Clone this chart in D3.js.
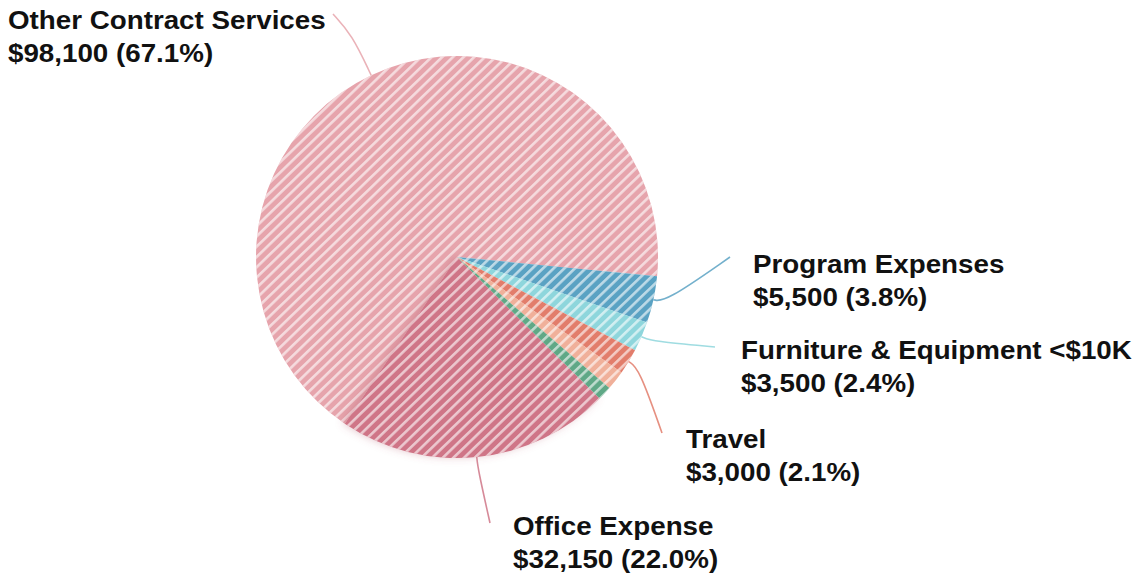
<!DOCTYPE html>
<html>
<head>
<meta charset="utf-8">
<script src="https://cdn.jsdelivr.net/npm/d3@7"></script>
<style>
  body { margin: 0; background: #fff; }
  svg { display: block; }
  .lbl { font-family: "Liberation Sans", Arial, sans-serif; font-weight: bold; font-size: 25px; fill: #111; }
</style>
</head>
<body>
<svg id="chart" width="1133" height="580"></svg>
<script>
// slices, clockwise starting from Program Expenses
var categories = ["Program Expenses", "Furniture & Equipment <$10K", "Travel", "(unlabeled 1)", "(unlabeled 2)", "Office Expense", "Other Contract Services"];
var amounts = [5500, 3500, 3000, 2300, 1650, 32150, 98100];
var showLabel = [true, true, true, false, false, true, true];
var colors = ["#5aa2c3", "#8ed6dc", "#e27d6b", "#f0b09a", "#5fa886", "#cf7587", "#e6a4ac"];

// label layout: text anchor + end of leader line
var labelPos = {
  "Program Expenses": {x: 753, y: 273, lx: 730, ly: 257},
  "Furniture & Equipment <$10K": {x: 741, y: 359, lx: 715, ly: 347},
  "Travel": {x: 686, y: 448, lx: 662, ly: 433},
  "Office Expense": {x: 513, y: 535, lx: 490, ly: 523},
  "Other Contract Services": {x: 8, y: 29, lx: 333, ly: 14}
};

var cx = 457, cy = 257, radius = 201;
var startDeg = 95.5;

var svg = d3.select("#chart");
var defs = svg.append("defs");

var pat = defs.append("pattern")
  .attr("id", "stripes")
  .attr("patternUnits", "userSpaceOnUse")
  .attr("width", 7.4)
  .attr("height", 20)
  .attr("patternTransform", "rotate(46)");
pat.append("rect")
  .attr("x", 0).attr("y", 0)
  .attr("width", 2.6).attr("height", 20)
  .attr("fill", "#fff")
  .attr("fill-opacity", 0.6);

var shadow = defs.append("filter")
  .attr("id", "shade")
  .attr("x", "-20%").attr("y", "-20%")
  .attr("width", "140%").attr("height", "140%");
shadow.append("feDropShadow")
  .attr("dx", -2).attr("dy", -1)
  .attr("stdDeviation", 4)
  .attr("flood-color", "#b05566")
  .attr("flood-opacity", 0.35);

var dataset = categories.map(function(c, i) {
  return {name: c, value: amounts[i], color: colors[i], show: showLabel[i]};
});
var total = d3.sum(amounts);
var pct = d3.format(".1%");
var money = d3.format("$,");

var pie = d3.pie()
  .sort(null)
  .value(function(d) { return d.value; })
  .startAngle(startDeg * Math.PI / 180)
  .endAngle((startDeg + 360) * Math.PI / 180);

var arc = d3.arc().innerRadius(0).outerRadius(radius);
var arcs = pie(dataset);

var g = svg.append("g").attr("transform", "translate(" + cx + "," + cy + ")");

// big slice first, then office with its soft shadow, then the thin ones
var order = arcs.slice().sort(function(a, b) { return b.value - a.value; });

order.forEach(function(a) {
  var s = g.append("g");
  if (a.data.name == "Office Expense") s.attr("filter", "url(#shade)");
  s.append("path").attr("d", arc(a)).attr("fill", a.data.color);
  s.append("path").attr("d", arc(a)).attr("fill", "url(#stripes)");
});

// leader lines
var lineGen = d3.line().curve(d3.curveBasis);

arcs.forEach(function(a) {
  if (!a.data.show) return;
  var p = labelPos[a.data.name];
  var mid = (a.startAngle + a.endAngle) / 2;
  var edge = [cx + radius * Math.sin(mid), cy - radius * Math.cos(mid)];
  var out = [cx + (radius + 12) * Math.sin(mid), cy - (radius + 12) * Math.cos(mid)];
  if (a.data.name == "Other Contract Services")
    out = [cx + (radius + 45) * Math.sin(mid), cy - (radius + 45) * Math.cos(mid)];
  svg.append("path")
    .attr("d", lineGen([edge, out, [p.lx, p.ly]]))
    .attr("fill", "none")
    .attr("stroke", a.data.color)
    .attr("stroke-width", 1.6)
    .attr("stroke-opacity", 0.85);

  var t = svg.append("g")
    .attr("transform", "translate(" + p.x + "," + p.y + ") scale(1.11,1)");
  t.append("text").attr("class", "lbl").text(a.data.name);
  t.append("text").attr("class", "lbl").attr("y", 33)
    .text(money(a.data.value) + " (" + pct(a.data.value / total) + ")");
});
</script>
</body>
</html>
